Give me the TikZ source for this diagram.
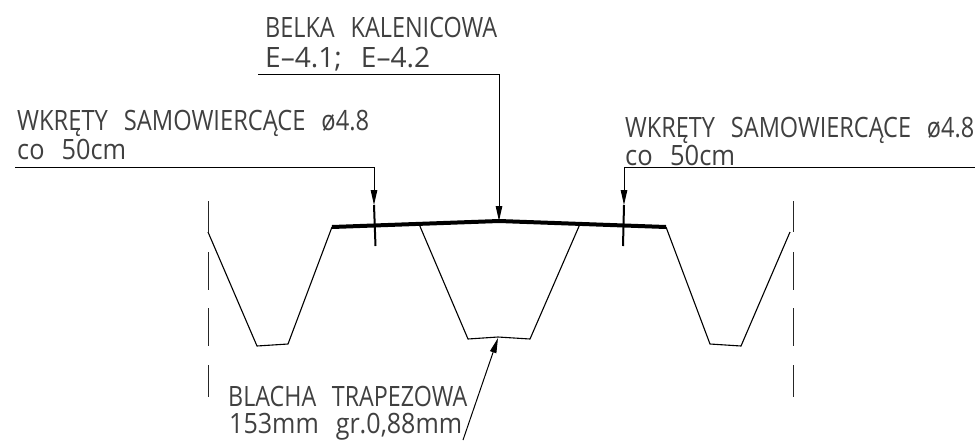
\documentclass[tikz,border=0pt]{standalone}
\usepackage{fontspec}
\usepackage{graphicx}
\setmainfont[WordSpace=2.6]{Open Sans}
\usetikzlibrary{arrows.meta}
\newcommand{\fitw}[2]{\resizebox{#1pt}{\height}{#2}}
\tikzset{
  x=1pt,y=-1pt,
  lbl/.style={anchor=base west,inner sep=0pt,font=\fontsize{28}{30}\selectfont,text=black!75},
  sheet/.style={line width=1.1pt,black,line join=miter},
  breakline/.style={line width=1pt,black!85},
  plate/.style={line width=4pt,black,line join=round},
  screw/.style={line width=2pt,black},
  lead/.style={line width=1pt,black,-{Triangle[length=15pt,width=6.5pt]}},
}
\begin{document}
\begin{tikzpicture}
\useasboundingbox (0,0) rectangle (975,440);
\clip (0,0) rectangle (975,440);
% labels
\node[lbl] (belka) at (265,37) {\fitw{232}{BELKA KALENICOWA}};
\node[lbl] (belkaref) at (265,67) {\fitw{165}{E--4.1; E--4.2}};
\node[lbl] (wl) at (17,130) {\fitw{352}{WKRĘTY SAMOWIERCĄCE ø4.8}};
\node[lbl] (wlb) at (17,159) {\fitw{109}{co 50cm}};
\node[lbl] (wr) at (625,137) {\fitw{349}{WKRĘTY SAMOWIERCĄCE ø4.8}};
\node[lbl] (wrb) at (625,165.5) {\fitw{110}{co 50cm}};
\node[lbl] (blacha) at (228,406) {\fitw{239}{BLACHA TRAPEZOWA}};
\node[lbl] (blachab) at (229,433) {\fitw{233}{153mm gr.0,88mm}};
% geometry
\coordinate (pl) at (332,227);
\coordinate (pm) at (499,221);
\coordinate (pr) at (666,227);
\coordinate (tl) at (374,205);
\coordinate (tr) at (624,205);
% trapezoidal sheet
\draw[sheet] (208,232) -- (257,346) -- (288,344) -- (pl);
\draw[sheet] (419,224) -- (468,339) -- (498,337) -- (530,339) -- (580,224);
\draw[sheet] (pr) -- (710,344) -- (741,346) -- (790,232);
% break lines
\foreach \px in {208.5,793.5}{
  \draw[breakline] (\px,201) -- (\px,232);
  \draw[breakline] (\px,252) -- (\px,290);
  \draw[breakline] (\px,308) -- (\px,346);
  \draw[breakline] (\px,365) -- (\px,397);
}
% ridge plate
\draw[plate] (pl) -- (pm) -- (pr);
% screws
\draw[screw] (tl) -- (375.5,246);
\draw[screw] (tr) -- (623,246);
% leaders
\draw[lead] (15,167) -- (374,167) -- (tl);
\draw[lead] (975,167) -- (624,167) -- (tr);
\draw[lead] (258,74) -- (499,74) -- (pm);
\draw[lead] (463,440) -- (498,338);
\end{tikzpicture}
\end{document}
